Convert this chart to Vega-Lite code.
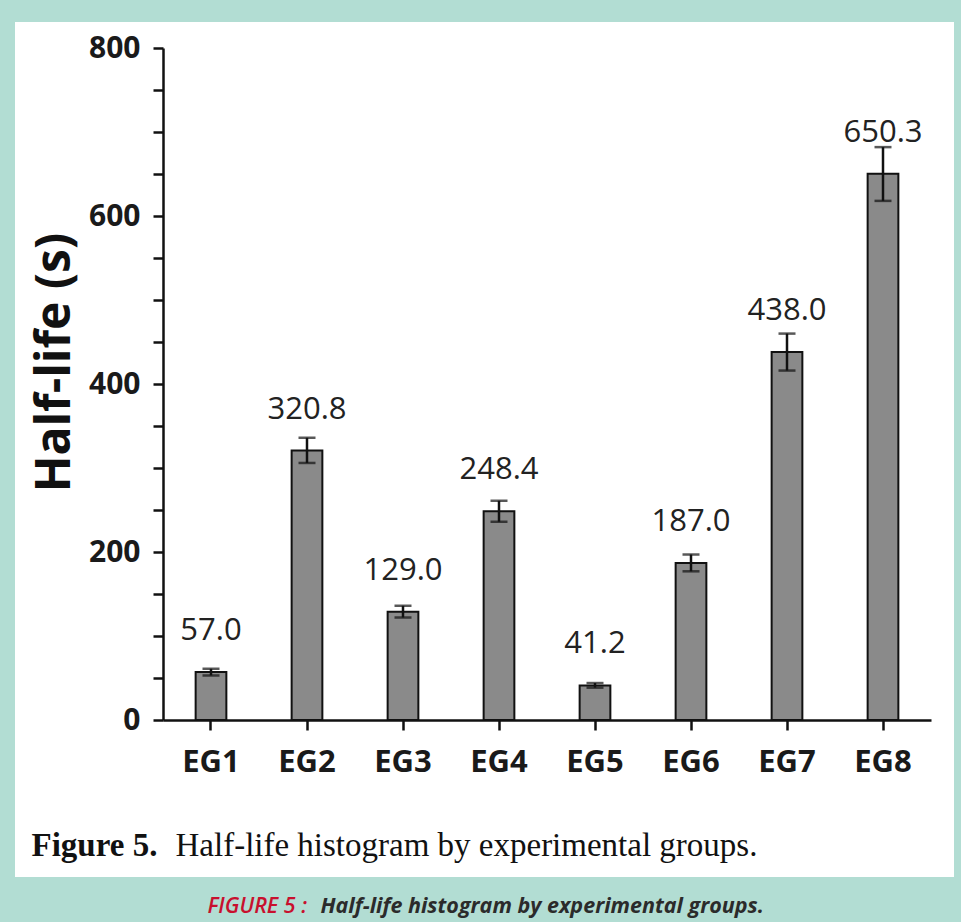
{
  "$schema": "https://vega.github.io/schema/vega-lite/v6.json",
  "autosize": "none",
  "width": 939,
  "height": 855,
  "padding": {"left": 15, "top": 22, "right": 7, "bottom": 45},
  "background": "#b2ddd3",
  "config": {"view": {"fill": "white", "stroke": null}},
  "data": {"values": [
    {"group": "EG1", "value": 57.0, "lo": 53, "hi": 61},
    {"group": "EG2", "value": 320.8, "lo": 306, "hi": 336},
    {"group": "EG3", "value": 129.0, "lo": 122, "hi": 136},
    {"group": "EG4", "value": 248.4, "lo": 236, "hi": 261},
    {"group": "EG5", "value": 41.2, "lo": 38.5, "hi": 44},
    {"group": "EG6", "value": 187.0, "lo": 177, "hi": 197},
    {"group": "EG7", "value": 438.0, "lo": 416, "hi": 460},
    {"group": "EG8", "value": 650.3, "lo": 618, "hi": 682}
  ]},
  "resolve": {"axis": {"x": "independent"}},
  "layer": [
    {
      "mark": {"type": "bar", "fill": "#8a8a8a", "stroke": "#111111", "strokeWidth": 2},
      "encoding": {
        "x": {"field": "group", "type": "nominal", "sort": null,
          "scale": {"type": "band", "range": [148, 916], "paddingInner": 0.68, "paddingOuter": 0.34},
          "axis": {"orient": "bottom", "offset": -157, "labelAngle": 0, "labelFont": "Open Sans", "labelFontSize": 31, "labelFontWeight": "bold", "labelColor": "#1a1a1a", "labelPadding": 17,
            "tickSize": 10, "tickWidth": 2.5, "tickColor": "#111111", "domainColor": "#111111", "domainWidth": 2.5, "grid": false,
            "title": "Half-life histogram by experimental groups.", "titleFont": "Liberation Serif", "titleFontSize": 33, "titleFontWeight": "normal", "titleColor": "#111111",
            "titleX": 160, "titleY": 135, "titleAlign": "left", "titleBaseline": "alphabetic", "titleAngle": 0}},
        "y": {"field": "value", "type": "quantitative",
          "scale": {"domain": [0, 800], "range": [698, 26], "nice": false},
          "axis": {"orient": "left", "offset": -148, "values": [0,50,100,150,200,250,300,350,400,450,500,550,600,650,700,750,800],
            "labelExpr": "datum.value % 200 === 0 ? datum.label : ''",
            "labelFont": "Open Sans", "labelFontSize": 30, "labelFontWeight": "bold", "labelColor": "#1a1a1a", "labelPadding": 13,
            "tickSize": 10, "tickWidth": 2.5, "tickColor": "#111111", "domainColor": "#111111", "domainWidth": 2.5, "grid": false,
            "title": "Half-life (s)", "titleFont": "Open Sans", "titleFontSize": 48, "titleFontWeight": "bold", "titleColor": "#111111", "titlePadding": 9, "titleY": 340}}
      }
    },
    {
      "mark": {"type": "rule", "stroke": "#111111", "strokeWidth": 2.5},
      "encoding": {
        "x": {"field": "group", "type": "nominal", "sort": null,
          "scale": {"type": "band", "range": [148, 916], "paddingInner": 0.68, "paddingOuter": 0.34},
          "axis": {"orient": "bottom", "offset": -157, "labels": false, "ticks": false, "domain": false, "grid": false,
            "title": "Figure 5.", "titleFont": "Liberation Serif", "titleFontSize": 33, "titleFontWeight": "bold", "titleColor": "#111111",
            "titleX": 16, "titleY": 135, "titleAlign": "left", "titleBaseline": "alphabetic", "titleAngle": 0}},
        "y": {"field": "lo", "type": "quantitative", "scale": {"domain": [0, 800], "range": [698, 26], "nice": false}},
        "y2": {"field": "hi"}
      }
    },
    {
      "mark": {"type": "tick", "color": "#111111", "size": 17, "thickness": 2.5, "orient": "horizontal"},
      "encoding": {
        "x": {"field": "group", "type": "nominal", "sort": null,
          "scale": {"type": "band", "range": [148, 916], "paddingInner": 0.68, "paddingOuter": 0.34},
          "axis": {"orient": "bottom", "offset": -157, "labels": false, "ticks": false, "domain": false, "grid": false,
            "title": "FIGURE 5 :", "titleFont": "Open Sans", "titleFontSize": 21.5, "titleFontWeight": 600, "titleFontStyle": "italic", "titleColor": "#c8102e",
            "titleX": 192, "titleY": 192, "titleAlign": "left", "titleBaseline": "alphabetic", "titleAngle": 0}},
        "y": {"field": "lo", "type": "quantitative", "scale": {"domain": [0, 800], "range": [698, 26], "nice": false}}
      }
    },
    {
      "mark": {"type": "tick", "color": "#111111", "size": 17, "thickness": 2.5, "orient": "horizontal"},
      "encoding": {
        "x": {"field": "group", "type": "nominal", "sort": null,
          "scale": {"type": "band", "range": [148, 916], "paddingInner": 0.68, "paddingOuter": 0.34},
          "axis": {"orient": "bottom", "offset": -157, "labels": false, "ticks": false, "domain": false, "grid": false,
            "title": "Half-life histogram by experimental groups.", "titleFont": "Open Sans", "titleFontSize": 21.5, "titleFontWeight": "bold", "titleFontStyle": "italic", "titleColor": "#2b2b2b",
            "titleX": 305, "titleY": 192, "titleAlign": "left", "titleBaseline": "alphabetic", "titleAngle": 0}},
        "y": {"field": "hi", "type": "quantitative", "scale": {"domain": [0, 800], "range": [698, 26], "nice": false}}
      }
    },
    {
      "mark": {"type": "text", "font": "Open Sans", "fontSize": 31, "color": "#222222", "baseline": "alphabetic", "dy": -32},
      "encoding": {
        "x": {"field": "group", "type": "nominal", "sort": null,
          "scale": {"type": "band", "range": [148, 916], "paddingInner": 0.68, "paddingOuter": 0.34},
          "axis": null},
        "y": {"field": "value", "type": "quantitative", "scale": {"domain": [0, 800], "range": [698, 26], "nice": false}},
        "text": {"field": "value", "type": "quantitative", "format": ".1f"}
      }
    }
  ]
}
